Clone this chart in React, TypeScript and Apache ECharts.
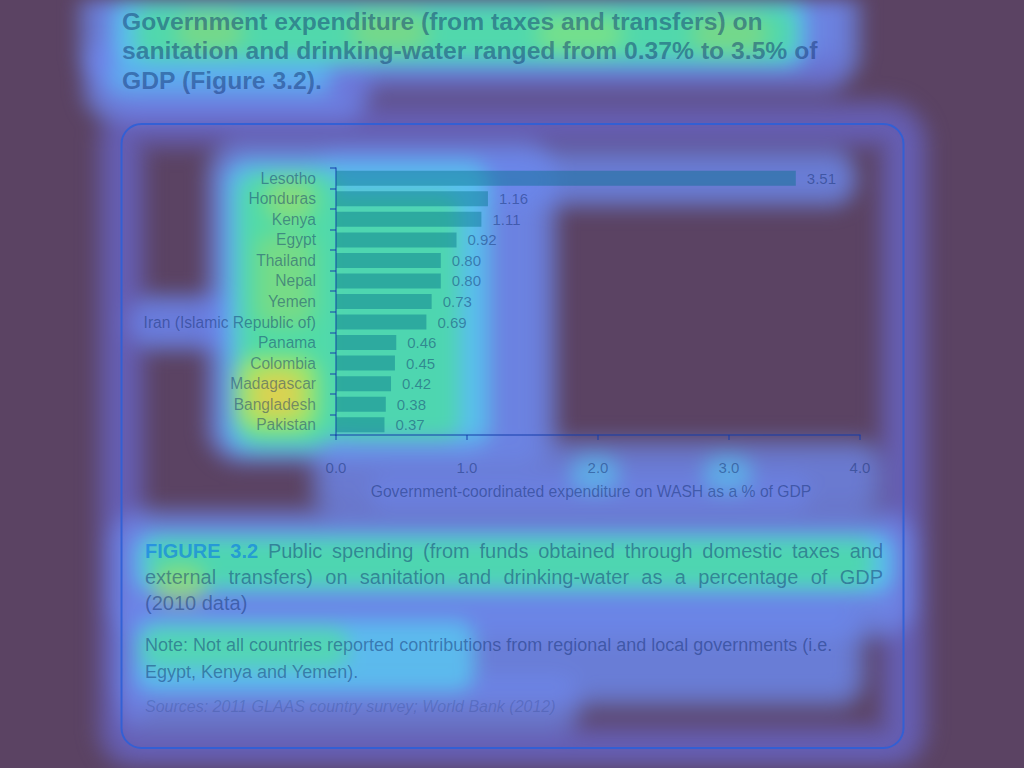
import React, { useEffect, useRef } from "react";
import * as echarts from "echarts";

// ---------- data ----------
const countries = [
  "Lesotho",
  "Honduras",
  "Kenya",
  "Egypt",
  "Thailand",
  "Nepal",
  "Yemen",
  "Iran (Islamic Republic of)",
  "Panama",
  "Colombia",
  "Madagascar",
  "Bangladesh",
  "Pakistan",
];
const spending = [3.51, 1.16, 1.11, 0.92, 0.8, 0.8, 0.73, 0.69, 0.46, 0.45, 0.42, 0.38, 0.37];
const xAxisName = "Government-coordinated expenditure on WASH as a % of GDP";

const titleLines = [
  "Government expenditure (from taxes and transfers) on",
  "sanitation and drinking-water ranged from 0.37% to 3.5% of",
  "GDP (Figure 3.2).",
];
const figureLabel = "FIGURE 3.2";
const captionLines = [
  "Public spending (from funds obtained through domestic taxes and",
  "external transfers) on sanitation and drinking-water as a percentage of GDP",
  "(2010 data)",
];
const noteLines = [
  "Note: Not all countries reported contributions from regional and local governments (i.e.",
  "Egypt, Kenya and Yemen).",
];
const sourceLine = "Sources: 2011 GLAAS country survey; World Bank (2012)";

// ---------- styles ----------
const FONT = '"Liberation Sans", Arial, sans-serif';
const BG = "#5b4363";
const TEXT = "rgba(12,40,105,0.45)";
const AXIS = "rgba(20,60,170,0.65)";
const BAR = "rgba(0,110,135,0.42)";

const HEAT: Record<string, number[]> = {
  lav: [104, 108, 210],
  blue: [110, 136, 238],
  cyan: [88, 200, 240],
  green: [80, 224, 160],
  lime: [176, 232, 96],
  yellow: [236, 206, 76],
};

// decorative attention-glow regions: x, y, w, h, colour, spread, strength
const glowRegions: [number, number, number, number, string, number, number][] = [
  // title
  [105, -10, 730, 72, "blue", 30, 0.92],
  [105, 60, 245, 40, "blue", 26, 0.9],
  [340, 66, 490, 16, "lav", 22, 0.5],
  [125, 8, 670, 48, "cyan", 16, 0.9],
  [145, 16, 640, 34, "green", 14, 0.85],
  [115, 68, 210, 20, "cyan", 12, 0.55],
  [185, 22, 50, 20, "lime", 14, 0.45],
  [360, 22, 60, 20, "lime", 14, 0.45],
  [545, 24, 70, 20, "lime", 14, 0.4],
  [700, 24, 60, 20, "lime", 14, 0.45],
  // chart
  [232, 166, 300, 272, "blue", 30, 0.92],
  [330, 166, 510, 24, "blue", 22, 0.85],
  [145, 310, 105, 25, "blue", 20, 0.88],
  [240, 176, 235, 262, "cyan", 20, 0.9],
  [252, 186, 74, 246, "green", 18, 0.9],
  [345, 204, 105, 228, "green", 14, 0.8],
  [250, 370, 54, 48, "lime", 18, 0.9],
  [262, 382, 30, 26, "yellow", 14, 0.75],
  [274, 188, 32, 24, "lime", 14, 0.6],
  [264, 242, 42, 76, "lime", 14, 0.45],
  // x axis
  [330, 458, 535, 42, "blue", 24, 0.8],
  [380, 484, 420, 16, "blue", 16, 0.6],
  [578, 463, 34, 22, "cyan", 12, 0.65],
  [711, 463, 34, 22, "cyan", 12, 0.65],
  // caption
  [135, 535, 755, 78, "blue", 30, 0.92],
  [135, 625, 710, 62, "blue", 26, 0.85],
  [135, 690, 430, 28, "blue", 22, 0.75],
  [145, 543, 738, 40, "cyan", 14, 0.9],
  [155, 548, 710, 30, "green", 12, 0.8],
  [145, 630, 320, 52, "cyan", 14, 0.85],
  [150, 636, 190, 24, "green", 12, 0.75],
  [162, 572, 36, 24, "lime", 12, 0.6],
];

function rgba(c: number[], a: number) {
  return `rgba(${c[0]},${c[1]},${c[2]},${a})`;
}

function softRect(x: number, y: number, w: number, h: number, col: string, spread: number, strength: number) {
  const steps = 8;
  const a = 1 - Math.pow(1 - strength, 1 / steps);
  const out: any[] = [];
  for (let i = 0; i < steps; i++) {
    const e = spread * (1 - i / (steps - 1));
    const hh = h + 2 * e;
    const ww = w + 2 * e;
    out.push({
      type: "rect",
      silent: true,
      shape: { x: x - e, y: y - e, width: ww, height: hh, r: Math.min(e + 10, hh / 2, ww / 2) },
      style: { fill: rgba(HEAT[col], a) },
    });
  }
  return out;
}

function boxGlow() {
  const out: any[] = [];
  const steps = 8;
  const a = 1 - Math.pow(1 - 0.75, 1 / steps);
  for (let i = 0; i < steps; i++) {
    const lw = 60 * (1 - i / steps);
    out.push({
      type: "rect",
      silent: true,
      shape: { x: 121.5, y: 124, width: 782, height: 624, r: 20 },
      style: { fill: "none", stroke: rgba(HEAT.lav, a), lineWidth: lw },
    });
  }
  return out;
}

let measureCtx: CanvasRenderingContext2D | null = null;
function measure(text: string, font: string) {
  if (!measureCtx) measureCtx = document.createElement("canvas").getContext("2d");
  measureCtx!.font = font;
  return measureCtx!.measureText(text).width;
}

function justifiedLine(words: { t: string; bold?: boolean; fill?: string }[], x0: number, x1: number, y: number, size: number) {
  const fonts = words.map((w) => `${w.bold ? "bold " : ""}${size}px ${FONT}`);
  const widths = words.map((w, i) => measure(w.t, fonts[i]));
  const total = widths.reduce((s, v) => s + v, 0);
  const gap = (x1 - x0 - total) / (words.length - 1);
  let x = x0;
  return words.map((w, i) => {
    const el = {
      type: "text",
      z: 10,
      x,
      y,
      style: { text: w.t, font: fonts[i], fill: w.fill || TEXT, verticalAlign: "middle" },
    };
    x += widths[i] + gap;
    return el;
  });
}

function buildGlowOption() {
  const elements: any[] = [];
  elements.push(...boxGlow());
  glowRegions.forEach((g) => elements.push(...softRect(g[0], g[1], g[2], g[3], g[4], g[5], g[6])));
  return { animation: false, backgroundColor: "transparent", graphic: { elements } };
}

function buildOption() {
  const elements: any[] = [];

  // box
  elements.push({
    type: "rect",
    z: 8,
    silent: true,
    shape: { x: 121.5, y: 124, width: 782, height: 624, r: 20 },
    style: { fill: "none", stroke: "rgba(45,95,215,0.9)", lineWidth: 2 },
  });

  // title
  titleLines.forEach((t, i) => {
    elements.push({
      type: "text",
      z: 10,
      x: 122,
      y: 21 + i * 29.7,
      style: { text: t, font: `bold 24.7px ${FONT}`, fill: TEXT, verticalAlign: "middle" },
    });
  });

  // caption (justified)
  const capSize = 20;
  const line1 = [
    ...figureLabel.split(" ").map((t) => ({ t, bold: true, fill: "rgba(0,110,235,0.55)" })),
    ...captionLines[0].split(" ").map((t) => ({ t })),
  ];
  elements.push(...justifiedLine(line1, 145, 883, 551, capSize));
  elements.push(...justifiedLine(captionLines[1].split(" ").map((t) => ({ t })), 145, 883, 577, capSize));
  elements.push({
    type: "text",
    z: 10,
    x: 145,
    y: 603,
    style: { text: captionLines[2], font: `${capSize}px ${FONT}`, fill: TEXT, verticalAlign: "middle" },
  });

  noteLines.forEach((t, i) => {
    elements.push({
      type: "text",
      z: 10,
      x: 145,
      y: 645 + i * 27,
      style: { text: t, font: `18px ${FONT}`, fill: TEXT, verticalAlign: "middle" },
    });
  });
  elements.push({
    type: "text",
    z: 10,
    x: 145,
    y: 706,
    style: { text: sourceLine, font: `italic 16px ${FONT}`, fill: "rgba(12,40,105,0.2)", verticalAlign: "middle" },
  });

  return {
    animation: false,
    backgroundColor: "transparent",
    grid: { left: 336, top: 168, width: 524, height: 267, containLabel: false },
    xAxis: {
      type: "value",
      min: 0,
      max: 4,
      interval: 1,
      z: 5,
      axisLine: { show: true, lineStyle: { color: AXIS, width: 1.5 } },
      axisTick: { show: true, length: 5, lineStyle: { color: AXIS, width: 1.5 } },
      splitLine: { show: false },
      axisLabel: { margin: 25, color: TEXT, fontSize: 15, fontFamily: FONT, formatter: (v: number) => v.toFixed(1) },
      name: xAxisName,
      nameLocation: "middle",
      nameGap: 48,
      nameTextStyle: { color: TEXT, fontSize: 15.7, fontFamily: FONT, padding: [0, 14, 0, 0] },
    },
    yAxis: {
      type: "category",
      inverse: true,
      data: countries,
      z: 5,
      axisLine: { show: true, lineStyle: { color: AXIS, width: 1.5 } },
      axisTick: { show: true, length: 6, alignWithLabel: false, lineStyle: { color: AXIS, width: 1.5 } },
      axisLabel: { interval: 0, margin: 20, color: TEXT, fontSize: 15.6, fontFamily: FONT },
    },
    series: [
      {
        type: "bar",
        data: spending,
        barWidth: 15,
        z: 6,
        itemStyle: { color: BAR },
        label: {
          show: true,
          position: "right",
          distance: 11,
          color: TEXT,
          fontSize: 15,
          fontFamily: FONT,
          formatter: (p: any) => Number(p.value).toFixed(2),
        },
      },
    ],
    graphic: { elements },
  };
}

export default function App() {
  const glowRef = useRef<HTMLDivElement>(null);
  const ref = useRef<HTMLDivElement>(null);
  useEffect(() => {
    const glow = echarts.init(glowRef.current!, null, { renderer: "svg" });
    glow.setOption(buildGlowOption() as any);
    const chart = echarts.init(ref.current!, null, { renderer: "svg" });
    chart.setOption(buildOption() as any);
    return () => {
      chart.dispose();
      glow.dispose();
    };
  }, []);
  return (
    <div style={{ position: "fixed", left: 0, top: 0, width: 1024, height: 768, background: BG, overflow: "hidden" }}>
      <div ref={glowRef} style={{ position: "absolute", left: 0, top: 0, width: 1024, height: 768, filter: "blur(9px)" }} />
      <div ref={ref} style={{ position: "absolute", left: 0, top: 0, width: 1024, height: 768 }} />
    </div>
  );
}
